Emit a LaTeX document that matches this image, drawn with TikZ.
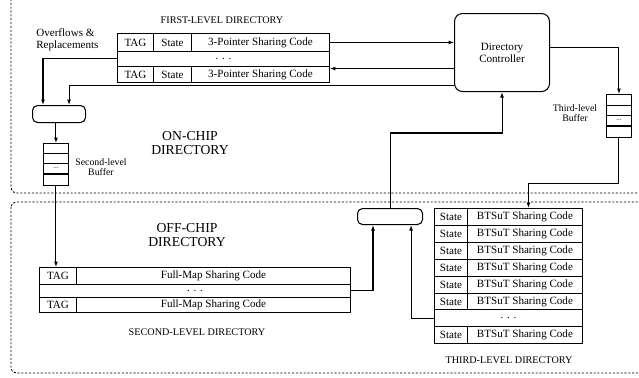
\documentclass[tikz,border=0pt]{standalone}
\usepackage{fontspec}
\setmainfont{Liberation Serif}
\usetikzlibrary{arrows.meta,calc}
\def\px{0.2mm}
\newcommand{\tabfont}{\fontsize{6.3}{6.8}\selectfont}
\newcommand{\capfont}{\fontsize{5.8}{7}\selectfont}
\newcommand{\bigfont}{\fontsize{7.8}{7.6}\selectfont}
\newcommand{\buffont}{\fontsize{5.6}{5.7}\selectfont}
\newcommand{\dotfont}{\fontsize{4}{4}\selectfont}
\tikzset{
  cell/.style={draw, line width=0.5pt, inner sep=0pt, anchor=north west, font=\tabfont},
  bufcell/.style={draw, line width=0.5pt, inner sep=0pt, anchor=north west,
    minimum width=25*\px, minimum height=10*\px, font=\dotfont},
  muxbox/.style={draw, line width=0.6pt, rounded corners=1mm, inner sep=0pt, anchor=north west},
  region/.style={draw, line width=0.5pt, dash pattern=on 1.2pt off 1pt, rounded corners=1mm},
  arr/.style={draw, line width=0.6pt, -{Latex[length=1.1mm,width=0.8mm]}},
  lbl/.style={inner sep=0pt, align=center},
}

\begin{document}
\begin{tikzpicture}[x=0.2mm, y=-0.2mm]
      \clip (0,0) rectangle (639,377);

      % On-chip and off-chip areas
      \draw[region] (11,-10) rectangle (660,193);
      \draw[region] (11,202) rectangle (660,373);

      % First-level directory
      \node[cell, minimum width=36*\px, minimum height=18*\px] (fl-tag1) at (117,33) {TAG};
      \node[cell, minimum width=38*\px, minimum height=18*\px] (fl-st1) at (153,33) {State};
      \node[cell, minimum width=138*\px, minimum height=18*\px] (fl-code1) at (191,33) {3-Pointer Sharing Code};
      \node[cell, minimum width=212*\px, minimum height=15*\px] (fl-dots) at (117,51) {. . .};
      \node[cell, minimum width=36*\px, minimum height=16*\px] (fl-tag2) at (117,66) {TAG};
      \node[cell, minimum width=38*\px, minimum height=16*\px] (fl-st2) at (153,66) {State};
      \node[cell, minimum width=138*\px, minimum height=16*\px] (fl-code2) at (191,66) {3-Pointer Sharing Code};

      % Directory controller
      \node[muxbox, rounded corners=1.6mm, minimum width=95*\px, minimum height=78*\px,
        font=\tabfont, align=center] (ctrl) at (454,13) {Directory\\Controller};

      % Multiplexers
      \node[muxbox, minimum width=53*\px, minimum height=17*\px] (mux1) at (32,105) {};
      \node[muxbox, minimum width=65*\px, minimum height=16*\px] (mux2) at (357,208) {};

      % Second-level buffer
      \node[bufcell] (buf2-1) at (43,143) {};
      \node[bufcell] (buf2-2) at (43,153) {};
      \node[bufcell] (buf2-3) at (43,163) {...};
      \node[bufcell, minimum height=12*\px] (buf2-4) at (43,173) {};
      \draw[line width=1.1pt] (buf2-3.south west) -- (buf2-3.south east);

      % Third-level buffer
      \node[bufcell, minimum height=11*\px] (buf3-1) at (606,94) {};
      \node[bufcell] (buf3-2) at (606,105) {};
      \node[bufcell] (buf3-3) at (606,115) {...};
      \node[bufcell, minimum height=12*\px] (buf3-4) at (606,125) {};
      \draw[line width=1.1pt] (buf3-3.south west) -- (buf3-3.south east);

      % Second-level directory
      \node[cell, minimum width=37*\px, minimum height=17*\px] (sl-tag1) at (39,267) {TAG};
      \node[cell, minimum width=274*\px, minimum height=17*\px] (sl-code1) at (76,267) {Full-Map Sharing Code};
      \node[cell, minimum width=311*\px, minimum height=13*\px] (sl-dots) at (39,284) {. . .};
      \node[cell, minimum width=37*\px, minimum height=15*\px] (sl-tag2) at (39,297) {TAG};
      \node[cell, minimum width=274*\px, minimum height=15*\px] (sl-code2) at (76,297) {Full-Map Sharing Code};

      % Third-level directory
      \foreach \i in {1,...,6} {
        \node[cell, minimum width=33*\px, minimum height=16.9*\px] (tl-st\i) at (434,{208+16.9*(\i-1)}) {State};
        \node[cell, minimum width=115*\px, minimum height=16.9*\px] (tl-code\i) at (467,{208+16.9*(\i-1)}) {BTSuT Sharing Code};
      }
      \node[cell, minimum width=148*\px, minimum height=16.9*\px] (tl-dots) at (434,309.4) {. . .};
      \node[cell, minimum width=33*\px, minimum height=16.9*\px] (tl-st7) at (434,326.3) {State};
      \node[cell, minimum width=115*\px, minimum height=16.9*\px] (tl-code7) at (467,326.3) {BTSuT Sharing Code};

      % Labels
      \node[lbl, font=\capfont] (fl-title) at (222,20) {FIRST-LEVEL DIRECTORY};
      \node[lbl, font=\tabfont, align=left, anchor=west] (ovf) at (36,40) {Overflows \&\\Replacements};
      \node[lbl, font=\bigfont] (onchip) at (190,143) {ON-CHIP\\DIRECTORY};
      \node[lbl, font=\buffont] (buf2-lbl) at (101,167) {Second-level\\Buffer};
      \node[lbl, font=\buffont] (buf3-lbl) at (575,113) {Third-level\\Buffer};
      \node[lbl, font=\bigfont] (offchip) at (187,235) {OFF-CHIP\\DIRECTORY};
      \node[lbl, font=\capfont] (sl-title) at (197,332) {SECOND-LEVEL DIRECTORY};
      \node[lbl, font=\capfont] (tl-title) at (509,360) {THIRD-LEVEL DIRECTORY};

      % Connections
      \draw[arr] (fl-code1.east) -- (fl-code1.east -| ctrl.west);
      \draw[arr] ($(ctrl.west)+(0,16)$) -- ($(ctrl.west -| fl-code2.east)+(0,16)$);
      \draw[arr] (fl-dots.west) -| ($(mux1.north west)+(11,0)$);
      \draw[arr] ($(ctrl.west)+(0,33)$) -| ($(mux1.north east)+(-17,0)$);
      \draw[arr] (mux1.south -| buf2-1.north) -- (buf2-1.north);
      \draw[arr] (buf2-4.south) -- (buf2-4.south |- sl-tag1.north);
      \draw[arr] (sl-dots.east) -| ($(mux2.south west)+(16,0)$);
      \draw[arr] (tl-dots.west) -| ($(mux2.south east)+(-12,0)$);
      \draw[arr] (mux2.north) -- ++(0,-75) -| (ctrl.south);
      \draw[arr] ($(ctrl.east)+(0,-5)$) -| (buf3-1.north);
      \draw[arr] (buf3-4.south) -- ++(0,46) -| ($(tl-code1.north)+(3.5,0)$);
    \end{tikzpicture}
\end{document}
